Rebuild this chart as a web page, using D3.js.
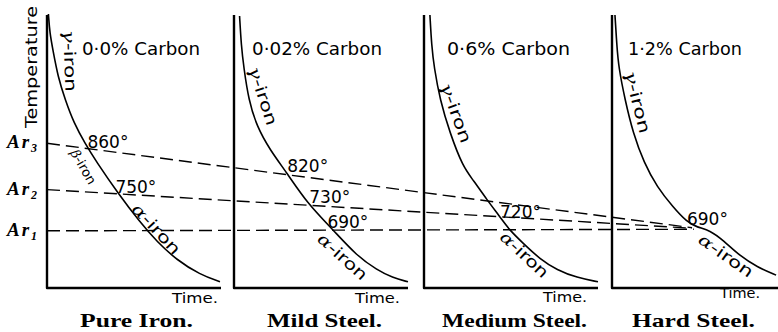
<!DOCTYPE html>
<html>
<head>
<meta charset="utf-8">
<script src="https://cdn.jsdelivr.net/npm/d3@7"></script>
<style>
    html, body { margin: 0; padding: 0; background: #fff; }
    svg { display: block; }
</style>
</head>
<body>
<div id="chart"></div>
<script>
const steels = ["Pure Iron.", "Mild Steel.", "Medium Steel.", "Hard Steel."];
const carbon = ["0·0% Carbon", "0·02% Carbon", "0·6% Carbon", "1·2% Carbon"];
const timeLabel = "Time.";
const tempLabel = "Temperature";

// cooling curves as [time, temperature]
const pureIron = [[0.8, 1112], [1.6, 1075], [3.4, 1042], [6.3, 990], [10.5, 945], [15.5, 900], [21.8, 861], [28.2, 826], [40.8, 764], [53.4, 708], [63.2, 670], [74.7, 634], [87.9, 606], [99.4, 592]];
const mildSteel = [[3.2, 1108], [4.2, 1050], [5.6, 1009], [8.4, 945], [13.2, 893], [20.7, 848], [30.5, 803], [42, 745], [56.9, 693], [70.7, 642], [82.2, 615], [91, 600], [100, 592]];
const mediumSteel = [[3.4, 1110], [4.4, 1050], [5.8, 1009], [9.2, 945], [14.9, 881], [22.4, 815], [28.2, 790], [36.2, 751], [43.7, 718], [49, 693], [56.9, 667], [66.7, 636], [76.4, 615], [87.9, 600], [100, 592]];
const hardSteel = [[1.7, 1110], [2.8, 1050], [3.8, 1009], [7.5, 945], [12.1, 881], [18.4, 823], [25.9, 776], [35.1, 737], [43.1, 708], [48.9, 698], [56.3, 692], [63.8, 673], [73.6, 642], [83.3, 621], [94.3, 605]];
const curves = [pureIron, mildSteel, mediumSteel, hardSteel];

// critical lines, [panel, time, temperature] at both ends
const ar3 = [[0, 0, 861], [3, 46, 697]];
const ar2 = [[0, 0, 771], [3, 46, 696]];
const ar1 = [[0, 0, 691], [3, 47, 694]];
const arLines = [ar3, ar2, ar1];
const arNames = ["3", "2", "1"];

// readings where each curve meets Ar3 / Ar2 / Ar1
const atAr3 = ["860°", "820°", null, null];
const atAr2 = ["750°", "730°", "720°", null];
const atAr1 = [null, "690°", null, "690°"];
const readings = [atAr3, atAr2, atAr1];

const phases = [
    [["γ", "-iron"], ["β", "-iron"], ["α", "-iron"]],
    [["γ", "-iron"], ["α", "-iron"]],
    [["γ", "-iron"], ["α", "-iron"]],
    [["γ", "-iron"], ["α", "-iron"]]
];

// ---- layout ----
const W = 778, H = 332;
const panelLeft = [47, 234, 424, 612];
const panelW = 174;
const sans = "DejaVu Sans, sans-serif";
const serif = "Liberation Serif, serif";

// phase label placement: time, temperature, angle, length, size
const phasePlace = [
    [[13.2, 1021, 88, 62, 16], [21, 815, 60, 38, 13], [62.9, 694.5, 47, 63, 16]],
    [[16.7, 953, 72, 61, 16], [62.4, 641, 42, 61, 16]],
    [[18.4, 920, 70, 63, 16], [57.7, 645, 43, 60, 16]],
    [[14.7, 941, 76, 64, 16], [65.5, 643, 35, 63, 16]]
];
const readingNudge = {"0-0": [-1, -1], "0-1": [-3.5, -1], "1-0": [-1, -3], "1-1": [-1.5, -2.5], "1-2": [-6, -2], "2-1": [0, 1], "3-2": [-18, -4.5]};
const carbonLeft = [35, 18, 23, 16];
const carbonLen = [118, 130, 123, 114];
const titleMid = [89.5, 90.5, 90.5, 81.5];
const titleLen = [113, 115, 145, 123];
const timeLeft = [125, 121, 119, 108];
const timeLen = [46, 45, 44, 40];
const timeBase = [303, 303, 302, 298];

const svg = d3.select("#chart").append("svg")
    .attr("width", W)
    .attr("height", H)
    .attr("viewBox", `0 0 ${W} ${H}`);

const y = d3.scaleLinear().domain([580, 1110]).range([288, 15]);
const xs = steels.map((s, i) => d3.scaleLinear().domain([0, 100]).range([panelLeft[i], panelLeft[i] + panelW]));

const line = xScale => d3.line()
    .x(d => xScale(d[0]))
    .y(d => y(d[1]))
    .curve(d3.curveBasis);

// axes
const axes = svg.append("g").attr("stroke", "#000").attr("stroke-width", 2.4).attr("fill", "none");
steels.forEach((s, i) => {
    const x0 = xs[i].range()[0], x1 = xs[i].range()[1];
    axes.append("path")
        .attr("d", `M${x0},${y(1110)}V${y(580)}H${x1}`)
        .attr("stroke-linejoin", "round");
});

// dashed critical lines
const arPix = arLines.map(l => l.map(([p, t, T]) => [xs[p](t), y(T)]));
svg.append("g").selectAll("line")
    .data(arPix)
    .join("line")
        .attr("x1", d => d[0][0])
        .attr("y1", d => d[0][1])
        .attr("x2", d => d[1][0])
        .attr("y2", d => d[1][1])
        .attr("stroke", "#000")
        .attr("stroke-width", 1.4)
        .attr("stroke-dasharray", "13,6");

// cooling curves
const curveG = svg.append("g");
const paths = curves.map((c, i) => curveG.append("path")
    .attr("d", line(xs[i])(c))
    .attr("fill", "none")
    .attr("stroke", "#000")
    .attr("stroke-width", 1.6)
    .node());

function arYAt(k, px){
    const [[ax, ay], [bx, by]] = arPix[k];
    return ay + (px - ax) * (by - ay) / (bx - ax);
}

function crossing(path, k){
    const len = path.getTotalLength();
    let prev = null;
    for (let s = 0; s <= len; s += 0.5){
        const pt = path.getPointAtLength(s);
        const diff = pt.y - arYAt(k, pt.x);
        if (prev && prev.diff < 0 && diff >= 0) return pt;
        prev = {pt, diff};
    }
    return null;
}

// temperature readings
const readG = svg.append("g")
    .attr("font-family", sans)
    .attr("font-size", 17);
readings.forEach((row, k) => {
    row.forEach((txt, i) => {
        if (!txt) return;
        const pt = crossing(paths[i], k);
        if (!pt) return;
        const n = readingNudge[`${i}-${k}`] || [0, 0];
        readG.append("text")
            .attr("x", pt.x + n[0])
            .attr("y", pt.y + n[1])
            .text(txt);
    });
});

// phase names along the curves
const phaseG = svg.append("g").attr("font-family", sans);
phases.forEach((names, i) => {
    names.forEach((name, j) => {
        const [t, T, ang, len, size] = phasePlace[i][j];
        const txt = phaseG.append("text")
            .attr("transform", `translate(${xs[i](t)},${y(T)}) rotate(${ang})`)
            .attr("text-anchor", "middle")
            .attr("dy", "0.35em")
            .attr("font-size", size)
            .attr("textLength", len)
            .attr("lengthAdjust", "spacingAndGlyphs");
        txt.append("tspan")
            .attr("font-family", "DejaVu Serif, serif")
            .attr("font-style", "italic")
            .text(name[0]);
        txt.append("tspan").text(name[1]);
    });
});

// carbon content
svg.append("g").selectAll("text")
    .data(carbon)
    .join("text")
        .attr("x", (d, i) => panelLeft[i] + carbonLeft[i])
        .attr("y", 55)
        .attr("font-family", sans)
        .attr("font-size", 17)
        .attr("textLength", (d, i) => carbonLen[i])
        .attr("lengthAdjust", "spacingAndGlyphs")
        .text(d => d);

// time labels
svg.append("g").selectAll("text")
    .data(steels)
    .join("text")
        .attr("x", (d, i) => panelLeft[i] + timeLeft[i])
        .attr("y", (d, i) => timeBase[i])
        .attr("font-family", sans)
        .attr("font-size", 14)
        .attr("textLength", (d, i) => timeLen[i])
        .attr("lengthAdjust", "spacingAndGlyphs")
        .text(timeLabel);

// titles
svg.append("g").selectAll("text")
    .data(steels)
    .join("text")
        .attr("x", (d, i) => panelLeft[i] + titleMid[i])
        .attr("y", 327)
        .attr("text-anchor", "middle")
        .attr("font-family", serif)
        .attr("font-weight", "bold")
        .attr("font-size", 19)
        .attr("textLength", (d, i) => titleLen[i])
        .attr("lengthAdjust", "spacingAndGlyphs")
        .text(d => d);

// vertical axis title
svg.append("text")
    .attr("transform", `translate(37,128) rotate(-90)`)
    .attr("font-family", sans)
    .attr("font-size", 16)
    .attr("textLength", 122)
    .attr("lengthAdjust", "spacingAndGlyphs")
    .text(tempLabel);

// Ar labels
const arG = svg.append("g")
    .attr("font-family", serif)
    .attr("font-weight", "bold")
    .attr("font-style", "italic");
arPix.forEach((p, k) => {
    const t = arG.append("text")
        .attr("x", 7)
        .attr("y", p[0][1] + 5);
    t.append("tspan")
        .attr("font-size", 19)
        .attr("letter-spacing", 2)
        .text("Ar");
    t.append("tspan")
        .attr("font-size", 12)
        .attr("dy", 4)
        .text(arNames[k]);
});
</script>
</body>
</html>
